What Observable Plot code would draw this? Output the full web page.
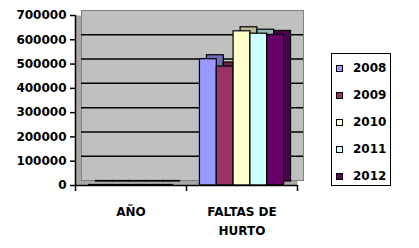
<!DOCTYPE html>
<html>
<head>
<meta charset="utf-8">
<script src="https://cdn.jsdelivr.net/npm/d3@7"></script>
<script src="https://cdn.jsdelivr.net/npm/@observablehq/plot@0.6"></script>
<style>
  html, body { margin: 0; padding: 0; background: #fff; }
  #wrap { position: relative; width: 419px; height: 248px; overflow: hidden; }
  #chart { position: absolute; left: 0; top: 0; }
  #legend { position: absolute; left: 331px; top: 53px; width: 58px; height: 131px;
    border: 1.5px solid #000; background: #fff; font: bold 12px "DejaVu Sans", sans-serif; }
  .item { position: absolute; left: 4px; height: 14px; display: flex; align-items: center; }
  .sw { width: 5px; height: 5px; border: 1px solid #000; margin-right: 10px; }
</style>
</head>
<body>
<div id="wrap"><div id="chart"></div><div id="legend"></div></div>
<script>
const categories = ["AÑO", "FALTAS DE HURTO"];
const categoryLabels = ["AÑO", "FALTAS DE\nHURTO"];
const years = ["2008", "2009", "2010", "2011", "2012"];
const valuesAno = [2008, 2009, 2010, 2011, 2012];
const valuesHurto = [520000, 490000, 635000, 625000, 620000];
const colors = ["#9999FF", "#993366", "#FFFFCC", "#CCFFFF", "#660066"];
const yTicks = [0, 100000, 200000, 300000, 400000, 500000, 600000, 700000];

const seriesByCategory = [valuesAno, valuesHurto];
const pad = 0.8, slots = years.length + 2 * pad;
const rows = [];
categories.forEach((c, ci) => {
  years.forEach((yr, yi) => {
    rows.push({cat: c, year: yr, value: seriesByCategory[ci][yi],
      x1: ci + (pad + yi) / slots, x2: ci + (pad + yi + 1) / slots,
      color: colors[yi], dark: d3.color(colors[yi]).darker(0.9).formatHex()});
  });
});

const chart = Plot.plot({
  width: 320, height: 248,
  marginLeft: 75, marginRight: 23, marginTop: 15, marginBottom: 63,
  style: {fontFamily: "DejaVu Sans, sans-serif", fontWeight: "bold", fontSize: "12px", color: "#000", background: "transparent"},
  x: {domain: [0, 2], axis: null, label: null},
  y: {domain: [0, 700000], axis: null, label: null},
  marks: [
    Plot.frame({fill: "#a8a8a8", stroke: "none"}),
    Plot.frame({fill: "#c0c0c0", stroke: "#808080", dx: 6, dy: -5}),
    Plot.ruleY(yTicks.filter(t => t > 0 && t < 700000), {stroke: "#000", strokeWidth: 1.5, dx: 6, dy: -5}),
    Plot.rectY(rows, {x1: "x1", x2: "x2", y: "value", fill: "dark", stroke: "#000", strokeWidth: 1.2, dx: 7, dy: -4}),
    Plot.rectY(rows, {x1: "x1", x2: "x2", y: "value", fill: "color", stroke: "#000", strokeWidth: 1.2}),
    Plot.ruleY([0], {stroke: "#000", strokeWidth: 1.5}),
    Plot.ruleX([0], {stroke: "#000", strokeWidth: 1.5}),
    Plot.axisX({ticks: [0, 1, 2], tickFormat: () => "", tickSize: 6, stroke: "#000", strokeWidth: 1.5, label: null}),
    Plot.axisY({ticks: yTicks, tickFormat: d => String(d), tickSize: 5, tickPadding: 4, stroke: "#000", strokeWidth: 1.5,
      fill: "#000", fontWeight: "bold", fontSize: 12, label: null}),
    Plot.text(categoryLabels, {x: (d, i) => i + 0.5, frameAnchor: "bottom", dy: 16, lineAnchor: "top",
      lineHeight: 1.65, fontWeight: "bold", fontSize: 12, fill: "#000"})
  ]
});
document.getElementById("chart").appendChild(chart);

const legend = document.getElementById("legend");
years.forEach((yr, i) => {
  const item = document.createElement("div");
  item.className = "item";
  item.style.top = (7 + i * 27) + "px";
  const sw = document.createElement("div");
  sw.className = "sw";
  sw.style.background = colors[i];
  const t = document.createElement("span");
  t.textContent = yr;
  item.appendChild(sw);
  item.appendChild(t);
  legend.appendChild(item);
});
</script>
</body>
</html>
